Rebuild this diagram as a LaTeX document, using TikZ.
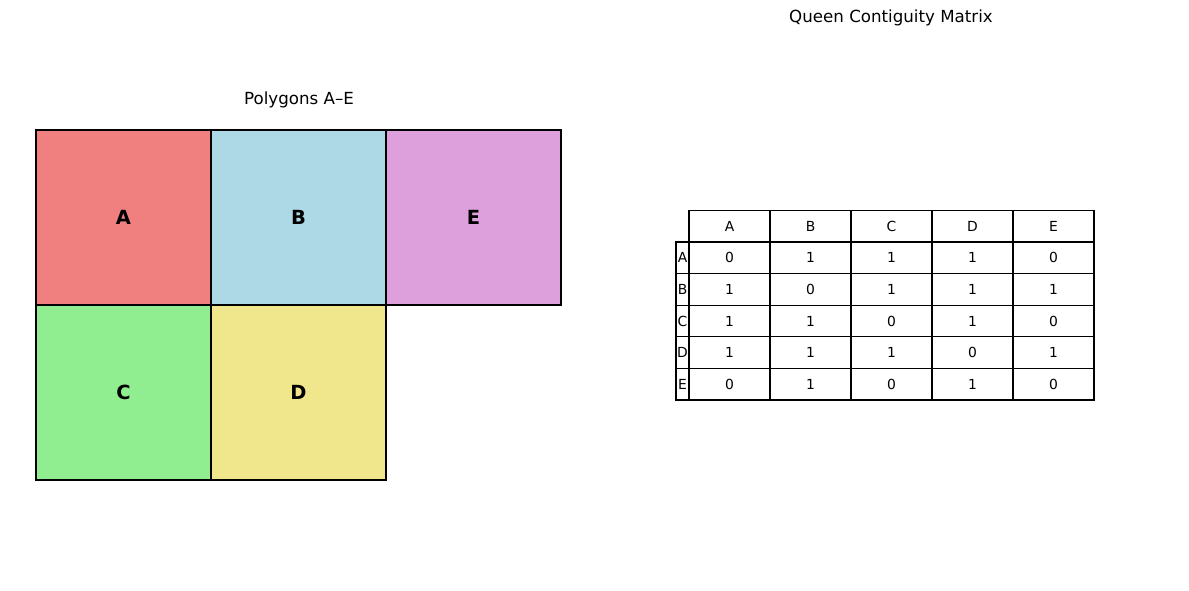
\documentclass[tikz,border=0pt]{standalone}
\usepackage{fontspec}
\setmainfont{DejaVu Sans}
\usetikzlibrary{positioning}
\definecolor{polyA}{RGB}{240,128,128}
\definecolor{polyB}{RGB}{173,216,230}
\definecolor{polyC}{RGB}{144,238,144}
\definecolor{polyD}{RGB}{240,230,140}
\definecolor{polyE}{RGB}{221,160,221}
\begin{document}
\begin{tikzpicture}[x=0.75pt,y=-0.75pt,
    poly/.style={rectangle, draw, line width=0.9pt, outer sep=0pt, inner sep=0pt, minimum size=131.25pt, font=\fontsize{14.6}{17}\selectfont\bfseries},
    cell/.style={rectangle, draw, line width=0.9pt, outer sep=0pt, inner sep=0pt, minimum width=60.75pt, minimum height=23.7pt, font=\fontsize{10.4}{12}\selectfont},
    rowlab/.style={cell, minimum width=9.75pt},
    title/.style={font=\fontsize{12.5}{15}\selectfont}]
    \useasboundingbox (0,0) rectangle (1189,590);
    % polygons
    \node[title] (ptitle) at (299,100) {Polygons A–E};
    \node[poly, fill=polyA] (A) at (123.5,217.5) {A};
    \node[poly, fill=polyB, right=0pt of A] (B) {B};
    \node[poly, fill=polyE, right=0pt of B] (E) {E};
    \node[poly, fill=polyC, below=0pt of A] (C) {C};
    \node[poly, fill=polyD, right=0pt of C] (D) {D};
    % matrix
    \node[title] (mtitle) at (891,18) {Queen Contiguity Matrix};
    \foreach \c [count=\j from 0] in {A,B,C,D,E}
        \node[cell] (h\c) at (729.5+81*\j,226.2) {\c};
    \foreach \r/\vals [count=\i from 0] in {A/{0,1,1,1,0},B/{1,0,1,1,1},C/{1,1,0,1,0},D/{1,1,1,0,1},E/{0,1,0,1,0}} {
        \node[rowlab] (r\r) at (682.5,257.8+31.6*\i) {\r};
        \foreach \v [count=\j from 0] in \vals
            \node[cell] (m\r\j) at (729.5+81*\j,257.8+31.6*\i) {\v};
    }
\end{tikzpicture}
\end{document}
